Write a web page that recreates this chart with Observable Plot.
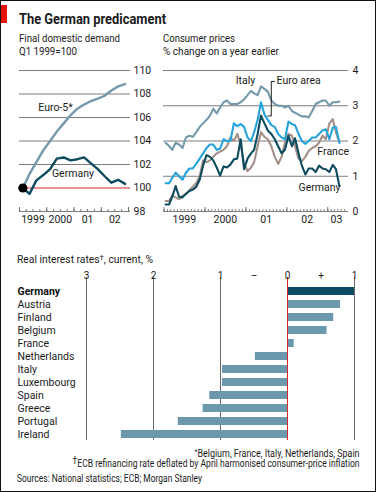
<!DOCTYPE html>
<html>
<head>
<meta charset="utf-8">
<script src="https://cdn.jsdelivr.net/npm/d3@7"></script>
<script src="https://cdn.jsdelivr.net/npm/@observablehq/plot@0.6"></script>
<style>
  html, body { margin: 0; padding: 0; background: #fff; }
  #page { position: relative; width: 376px; height: 492px; overflow: hidden; background: #fff;
          font-family: Roboto, "Noto Sans", sans-serif; color: #1b1b1b; }
  .t { position: absolute; white-space: nowrap; line-height: 1; }
  .r { text-align: right; }
  .plot { position: absolute; }
  .plot svg { overflow: visible; }
  #frame { position: absolute; left: 0; top: 0; width: 376px; height: 492px; box-sizing: border-box;
           border: 1px solid #111; pointer-events: none; }
  #tab { position: absolute; left: 0; top: 5px; width: 7px; height: 18px; background: #e3120b; }
  sup { font-size: 0.75em; vertical-align: 0.35em; line-height: 0; }
</style>
</head>
<body>
<div id="page">
  <div id="tab"></div>
  <div class="t" data-w="147" style="left:19px;top:12px;font-size:15.5px;font-weight:700;">The German predicament</div>

  <div class="t" data-w="101" style="left:19px;top:33.7px;font-size:10.5px;">Final domestic demand</div>
  <div class="t" data-w="58" style="left:19px;top:47.2px;font-size:10.5px;">Q1 1999=100</div>

  <div class="t" data-w="72" style="left:163px;top:33.7px;font-size:10.5px;">Consumer prices</div>
  <div class="t" data-w="116" style="left:163px;top:47.2px;font-size:10.5px;">% change on a year earlier</div>

  <div id="left" class="plot" style="left:0;top:60px;"></div>
  <div id="right" class="plot" style="left:160px;top:60px;"></div>

  <div class="t" data-w="136" style="left:17px;top:254.5px;font-size:10.5px;">Real interest rates<sup>†</sup>, current, %</div>
  <div id="bars" class="plot" style="left:0;top:240px;"></div>

  <div class="t r" data-w="165" style="right:16px;top:448.5px;font-size:10px;"><sup>*</sup>Belgium, France, Italy, Netherlands, Spain</div>
  <div class="t r" data-w="287" style="right:16px;top:458.5px;font-size:10px;"><sup style="font-size:1em">†</sup>ECB refinancing rate deflated by April harmonised consumer-price inflation</div>
  <div class="t" data-w="185" style="left:17px;top:473.5px;font-size:10px;">Sources: National statistics; ECB; Morgan Stanley</div>

  <div id="frame"></div>
</div>

<script>
// ---------------- DATA ----------------
// Final domestic demand, Q1 1999 = 100
const demandQuarters = ["1999Q1","1999Q2","1999Q3","1999Q4","2000Q1","2000Q2","2000Q3","2000Q4",
                        "2001Q1","2001Q2","2001Q3","2001Q4","2002Q1","2002Q2","2002Q3","2002Q4"];
const euro5Demand   = [100, 101.2, 102.2, 103.2, 104.0, 104.8, 105.5, 106.2,
                       106.75, 107.1, 107.4, 107.6, 107.85, 108.3, 108.65, 108.85];
const germanyDemand = [100, 99.5, 100.65, 101.1, 101.6, 102.5, 102.6, 102.35,
                       102.45, 102.6, 102.1, 101.6, 101.0, 100.45, 100.7, 100.35];
const demandTicks = [98, 100, 102, 104, 106, 108, 110];
const demandYearLabels = ["1999", "2000", "01", "02"];
const demandYears = [1999, 2000, 2001, 2002];

// Consumer prices, % change on a year earlier, monthly Jan 1999 - Apr 2003
const priceStart = "1999-01";
const italyPrices = [1.95,1.86,1.75,1.95,1.9,1.8,2.1,2.15,2.12,2.25,2.4,2.5,
                     2.6,2.72,2.92,2.78,2.95,3.1,3.15,3.05,3.05,3.05,3.1,3.18,
                     3.3,3.42,3.35,3.3,3.55,3.48,3.4,3.15,3.05,3.0,3.0,2.95,
                     3.0,2.85,2.8,2.75,2.7,2.7,2.67,2.85,3.05,3.1,3.15,3.15,
                     3.0,3.1,3.1,3.12];
const franceCPI = [0.3,0.3,0.45,0.4,0.35,0.45,0.5,0.6,0.7,0.8,1.0,1.45,
                   1.4,1.45,1.55,1.65,1.7,1.75,1.85,2.1,2.0,2.2,1.9,1.35,
                   1.15,1.25,1.4,1.85,2.25,2.12,2.05,1.85,1.55,1.35,1.55,1.95,
                   2.2,2.15,1.85,1.5,1.43,1.55,1.72,1.8,1.85,1.95,2.15,2.05,
                   2.5,2.62,2.25,1.95];
const euroAreaCPI = [0.8,0.8,0.95,1.1,1.0,0.9,1.1,1.22,1.22,1.35,1.5,1.65,
                     1.8,1.9,1.9,1.75,1.78,2.05,2.0,2.0,2.5,2.42,2.48,2.4,
                     2.1,2.0,2.25,2.6,3.1,2.75,2.6,2.45,2.4,2.2,2.1,2.05,
                     2.55,2.48,2.45,2.2,2.0,1.92,2.0,2.1,2.1,2.2,2.3,2.33,
                     2.05,2.38,2.4,1.95];
const germanyCPI = [0.2,0.2,0.42,0.72,0.42,0.4,0.5,0.58,0.62,0.7,0.9,1.3,
                    1.6,1.55,1.45,1.25,1.02,1.28,1.25,1.33,1.48,1.5,2.05,1.2,
                    1.5,1.65,1.75,2.2,2.72,2.5,2.3,2.2,2.05,1.85,1.65,1.75,
                    2.15,1.85,2.08,1.65,1.3,1.05,1.22,1.22,1.12,1.3,1.22,1.2,
                    1.12,1.32,1.2,0.72];
const priceTicks = [0, 1, 2, 3, 4];
const priceYearLabels = ["1999", "2000", "01", "02", "03"];
const priceLabelDates = ["1999-07-01", "2000-07-01", "2001-07-01", "2002-07-01", "2003-03-19"];

// Real interest rates, current, %
const countries = ["Germany","Austria","Finland","Belgium","France","Netherlands",
                   "Italy","Luxembourg","Spain","Greece","Portugal","Ireland"];
const realRates = [1.0, 0.79, 0.69, 0.59, 0.1, -0.48, -0.97, -0.97, -1.16, -1.26, -1.63, -2.48];
const rateTickValues = [-3, -2, -1, -0.5, 0, 0.5, 1];
const rateTickLabels = ["3", "2", "1", "\u2013", "0", "+", "1"];

// Annotations (data coordinates)
const demandNotes = [
  {label: "Euro-5*", date: "2000-04-27", value: 106.8},
  {label: "Germany", date: "2000-12-17", value: 101.26}
];
const priceNotes = [
  {label: "Italy", date: "2000-12-28", value: 3.71, anchor: "middle"},
  {label: "Euro area", date: "2001-10-01", value: 3.71, anchor: "start"},
  {label: "France", date: "2003-02-18", value: 1.69, anchor: "middle"},
  {label: "Germany", date: "2002-10-19", value: 0.67, anchor: "middle"}
];
const euroBracket = [
  {date: "2001-07-15", value: 2.71},
  {date: "2001-08-15", value: 2.71},
  {date: "2001-08-15", value: 3.69},
  {date: "2001-09-13", value: 3.69}
];

// ---------------- BUILD ----------------
const U = (s) => new Date(s + (s.length === 10 ? "T00:00:00Z" : ""));
const qDate = (s) => new Date(Date.UTC(+s.slice(0, 4), (+s[5] - 1) * 3 + 1, 15));
const demand = demandQuarters.map((q, i) => ({date: qDate(q), euro5: euro5Demand[i], germany: germanyDemand[i]}));

const p0 = new Date(priceStart + "-15T00:00:00Z");
const prices = italyPrices.map((v, i) => ({
  date: d3.utcMonth.offset(p0, i),
  italy: v, france: franceCPI[i], euro: euroAreaCPI[i], germany: germanyCPI[i]
}));

const C = {
  grid: "#7d7d7d", red: "#d7262b", tick: "#555",
  euro5: "#7399aa", italy: "#7399aa", dark: "#0d4b5f", light: "#25a3da", brown: "#a48e88",
  bar: "#6c98ad", barDark: "#0b4a62", text: "#1b1b1b"
};
const font = "Roboto, 'Noto Sans', sans-serif";
const FH = 141; // frame height of the two line charts

// Left chart: final domestic demand
const leftX = [U("1999-01-01"), U("2003-01-27")];
const left = Plot.plot({
  width: 160, height: 175,
  marginLeft: 19, marginRight: 30, marginTop: 10, marginBottom: 24,
  style: {fontFamily: font, fontSize: "10.5px", color: C.text, background: "transparent"},
  x: {type: "utc", domain: leftX, axis: null},
  y: {domain: [98, 110], axis: null},
  marks: [
    Plot.ruleY(demandTicks.filter(d => d !== 100), {stroke: C.grid, strokeWidth: 1}),
    Plot.ruleY([100], {stroke: C.red, strokeWidth: 1}),
    Plot.axisY({anchor: "right", ticks: demandTicks, tickFormat: d => String(d), tickSize: 0, tickPadding: 3, label: null, fontSize: 10.5}),
    Plot.ruleX(d3.utcMonth.every(3).range(U("1999-01-01"), U("2003-01-02")), {stroke: C.tick, strokeWidth: 0.8, insetTop: FH - 2}),
    Plot.ruleX(d3.utcYear.range(U("1999-01-01"), U("2003-01-02")), {stroke: C.tick, strokeWidth: 0.8, insetTop: FH - 4}),
    Plot.text(demandYears, {x: y => new Date(Date.UTC(y, 6, 1)), text: (y, i) => demandYearLabels[i], frameAnchor: "bottom", dy: 11, fill: C.text}),
    Plot.line(demand, {x: "date", y: "euro5", stroke: C.euro5, strokeWidth: 2.4}),
    Plot.line(demand, {x: "date", y: "germany", stroke: C.dark, strokeWidth: 2.4}),
    Plot.dot(demand.slice(0, 1), {x: "date", y: "germany", r: 4.6, fill: "#000"}),
    Plot.text(demandNotes, {x: d => U(d.date), y: "value", text: "label", fill: C.text})
  ]
});
document.getElementById("left").append(left);

// Right chart: consumer prices
const right = Plot.plot({
  width: 216, height: 175,
  marginLeft: 3, marginRight: 28, marginTop: 10, marginBottom: 24,
  style: {fontFamily: font, fontSize: "10.5px", color: C.text, background: "transparent"},
  x: {type: "utc", domain: [U("1998-12-27"), U("2003-07-05")], axis: null},
  y: {domain: [0, 4], axis: null},
  marks: [
    Plot.ruleY(priceTicks, {stroke: C.grid, strokeWidth: 1}),
    Plot.axisY({anchor: "right", ticks: priceTicks, tickFormat: d => String(d), tickSize: 0, tickPadding: 4, label: null, fontSize: 10.5}),
    Plot.ruleX(d3.utcMonth.range(U("1999-01-01"), U("2003-06-02")), {stroke: C.tick, strokeWidth: 0.7, insetTop: FH - 2}),
    Plot.ruleX(d3.utcYear.range(U("1999-01-01"), U("2003-01-02")), {stroke: C.tick, strokeWidth: 0.8, insetTop: FH - 4}),
    Plot.text(priceLabelDates, {x: d => U(d), text: (d, i) => priceYearLabels[i], frameAnchor: "bottom", dy: 11, fill: C.text}),
    Plot.line(prices, {x: "date", y: "italy", stroke: C.italy, strokeWidth: 2.1}),
    Plot.line(prices, {x: "date", y: "france", stroke: C.brown, strokeWidth: 2.1}),
    Plot.line(prices, {x: "date", y: "euro", stroke: C.light, strokeWidth: 2.1}),
    Plot.line(prices, {x: "date", y: "germany", stroke: C.dark, strokeWidth: 2.1}),
    Plot.line(euroBracket, {x: d => U(d.date), y: "value", stroke: "#222", strokeWidth: 1, curve: "linear"}),
    Plot.text(priceNotes.filter(d => d.anchor === "middle"), {x: d => U(d.date), y: "value", text: "label", fill: C.text}),
    Plot.text(priceNotes.filter(d => d.anchor === "start"), {x: d => U(d.date), y: "value", text: "label", textAnchor: "start", fill: C.text})
  ]
});
document.getElementById("right").append(right);

// Bar chart: real interest rates
const rates = countries.map((c, i) => ({country: c, value: realRates[i]}));
const rateTicks = rateTickValues.map((v, i) => ({value: v, label: rateTickLabels[i]}));
const bars = Plot.plot({
  width: 376, height: 210,
  marginLeft: 86, marginRight: 22, marginTop: 37, marginBottom: 10,
  style: {fontFamily: font, fontSize: "10px", color: C.text, background: "transparent"},
  x: {domain: [-3, 1], axis: null},
  y: {type: "band", domain: countries, range: [43.4, 201.6], paddingInner: 0.4, paddingOuter: 0.2, axis: null},
  marks: [
    Plot.ruleX([-3, -2, -1, 1], {stroke: "#6a6a6a", strokeWidth: 1}),
    Plot.barX(rates.filter(d => d.country !== "Germany"), {x: "value", y: "country", fill: C.bar}),
    Plot.barX(rates.filter(d => d.country === "Germany"), {x: "value", y: "country", fill: C.barDark}),
    Plot.ruleX([0], {stroke: C.red, strokeWidth: 1}),
    Plot.text(rateTicks, {x: "value", text: "label", frameAnchor: "top", dy: -5.7, fill: C.text, fontSize: 10}),
    Plot.text(rates.filter(d => d.country !== "Germany"), {y: "country", text: "country", frameAnchor: "left", textAnchor: "start", dx: -69, fill: C.text, fontSize: 10.5}),
    Plot.text(rates.filter(d => d.country === "Germany"), {y: "country", text: "country", frameAnchor: "left", textAnchor: "start", dx: -69, fill: "#111", fontSize: 10.5, fontWeight: 700})
  ]
});
document.getElementById("bars").append(bars);

// Fit HTML text runs to the widths they take in the reference (narrow typeface)
function fit() {
  document.querySelectorAll("[data-w]").forEach(el => {
    el.style.transform = "none";
    const w = el.getBoundingClientRect().width;
    if (!w) return;
    el.style.transformOrigin = el.classList.contains("r") ? "100% 50%" : "0 50%";
    el.style.transform = `scaleX(${(+el.dataset.w) / w})`;
  });
}
fit();
if (document.fonts && document.fonts.ready) document.fonts.ready.then(fit);
</script>
</body>
</html>
